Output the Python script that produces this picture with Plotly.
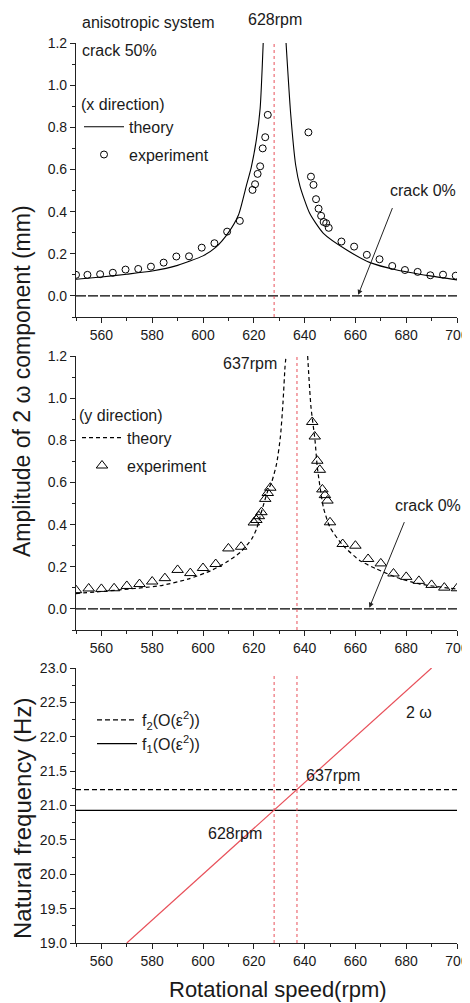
import plotly.graph_objects as go

# ---------------- data ----------------
# x direction (top panel)
x_theory_rpm = [550, 560, 570, 580, 590, 600, 605, 610, 614, 617, 619, 621, 622.5, 623.7,
                None,
                632.7, 634.5, 636.5, 638.2, 642, 647.4, 656.6, 665.8, 676.3, 689.4, 700]
x_theory_amp = [0.079, 0.09, 0.103, 0.118, 0.145, 0.19, 0.23, 0.30, 0.385, 0.52, 0.61, 0.74, 0.89, 1.2,
                None,
                1.2, 0.867, 0.62, 0.52, 0.392, 0.297, 0.218, 0.158, 0.123, 0.095, 0.076]
x_exp_rpm = [550, 554.5, 559.5, 564.5, 569.5, 574.5, 579.5, 584.5, 589.5, 594.5, 599.5, 604.5,
             609.5, 614.5, 619.5, 620.5, 621.5, 622.5, 623.5, 624.5, 625.5,
             641.5, 642.5, 643.5, 644.5, 645.5, 646.5, 647.5, 648.5, 649.5,
             654.5, 659.5, 664.5, 669.5, 674.5, 679.5, 684.5, 689.5, 694.5, 699.5]
x_exp_amp = [0.10, 0.10, 0.103, 0.11, 0.125, 0.128, 0.139, 0.158, 0.187, 0.188, 0.229, 0.25,
             0.305, 0.356, 0.503, 0.53, 0.579, 0.615, 0.70, 0.753, 0.859,
             0.776, 0.566, 0.527, 0.459, 0.414, 0.38, 0.351, 0.345, 0.323,
             0.258, 0.234, 0.195, 0.174, 0.142, 0.123, 0.114, 0.098, 0.101, 0.096]

# y direction (middle panel)
y_theory_rpm = [550, 563, 583, 594, 603, 609, 614.6, 619.2, 621.1, 623, 625.5, 627, 629, 630.5,
                631.5, 632.3, 632.7,
                None,
                641.2, 642.5, 644.1, 645, 647.4, 650, 655.2, 661.8, 668.4, 676.3, 685.4, 700]
y_theory_amp = [0.073, 0.086, 0.11, 0.141, 0.181, 0.22, 0.268, 0.332, 0.38, 0.46, 0.56, 0.60, 0.69, 0.82,
                0.98, 1.15, 1.2,
                None,
                1.2, 0.959, 0.80, 0.673, 0.482, 0.387, 0.30, 0.229, 0.189, 0.149, 0.118, 0.094]
y_exp_rpm = [550, 555, 560, 565, 570, 575, 580, 585, 590, 595, 600, 605, 610, 615,
             620, 621, 622, 623, 624.5, 625.5, 626.5,
             643, 644, 645, 646, 647, 648, 649, 650, 655, 660, 665, 670, 675, 680, 685, 690, 695, 700]
y_exp_amp = [0.089, 0.097, 0.095, 0.098, 0.109, 0.118, 0.13, 0.146, 0.185, 0.17, 0.194, 0.213, 0.287, 0.295,
             0.41, 0.422, 0.44, 0.459, 0.522, 0.55, 0.575,
             0.887, 0.818, 0.703, 0.66, 0.567, 0.54, 0.514, 0.411, 0.308, 0.30, 0.237, 0.216, 0.168,
             0.152, 0.133, 0.114, 0.101, 0.098]

crack0_rpm = [550, 700]
crack0_amp = [0.0, 0.0]

# natural frequency (bottom panel)
res_rpm = [628, 637]
f1_hz = 20.93
f2_hz = 21.23
freq_rpm_span = [550, 700]
two_omega_rpm = [570, 690]
two_omega_hz = [19.0, 23.0]

# ---------------- helpers ----------------
OFF = 8  # page body margin in the browser
WIN_W, WIN_H = 470, 1003
W, H = WIN_W - OFF, WIN_H - OFF
def px(x):
    return (x - OFF) / W
def py(y):
    return 1 - (y - OFF) / H

FONT = "Liberation Sans, Arial, sans-serif"
TXT = "#1a1a1a"
RED = "#e8505a"

fig = go.Figure()

# top panel
fig.add_trace(go.Scatter(x=x_theory_rpm, y=x_theory_amp, mode="lines", name="theory",
                         line=dict(color="black", width=1.1, shape="spline", smoothing=0.6),
                         connectgaps=False, xaxis="x", yaxis="y", legend="legend", legendgroup="a"))
fig.add_trace(go.Scatter(x=x_exp_rpm, y=x_exp_amp, mode="markers", name="experiment",
                         marker=dict(symbol="circle-open", size=7, color="black", line=dict(width=1)),
                         xaxis="x", yaxis="y", legend="legend", legendgroup="b"))
fig.add_trace(go.Scatter(x=crack0_rpm, y=crack0_amp, mode="lines", showlegend=False,
                         line=dict(color="black", width=1.1, dash="10px,2px"), xaxis="x", yaxis="y"))

# middle panel
fig.add_trace(go.Scatter(x=y_theory_rpm, y=y_theory_amp, mode="lines", name="theory",
                         line=dict(color="black", width=1.2, dash="4px,3px", shape="spline", smoothing=0.6),
                         connectgaps=False, xaxis="x2", yaxis="y2", legend="legend2", legendgroup="c"))
fig.add_trace(go.Scatter(x=y_exp_rpm, y=y_exp_amp, mode="markers", name="experiment",
                         marker=dict(symbol="triangle-up-open", size=10, color="black", line=dict(width=1)),
                         xaxis="x2", yaxis="y2", legend="legend2", legendgroup="d"))
fig.add_trace(go.Scatter(x=crack0_rpm, y=crack0_amp, mode="lines", showlegend=False,
                         line=dict(color="black", width=1.1, dash="10px,2px"), xaxis="x2", yaxis="y2"))

# bottom panel
fig.add_trace(go.Scatter(x=freq_rpm_span, y=[f2_hz, f2_hz], mode="lines",
                         name="f<sub>2</sub>(O(ε<sup>2</sup>))",
                         line=dict(color="black", width=1.2, dash="5px,3px"),
                         xaxis="x3", yaxis="y3", legend="legend3", legendgroup="e"))
fig.add_trace(go.Scatter(x=freq_rpm_span, y=[f1_hz, f1_hz], mode="lines",
                         name="f<sub>1</sub>(O(ε<sup>2</sup>))",
                         line=dict(color="black", width=1.2),
                         xaxis="x3", yaxis="y3", legend="legend3", legendgroup="f"))
fig.add_trace(go.Scatter(x=two_omega_rpm, y=two_omega_hz, mode="lines", showlegend=False,
                         line=dict(color=RED, width=1.2), xaxis="x3", yaxis="y3"))

# red dotted resonance lines
shapes = []
shapes.append(dict(type="line", xref="x", yref="y domain", x0=res_rpm[0], x1=res_rpm[0], y0=0, y1=1,
                   line=dict(color=RED, width=1, dash="dot")))
shapes.append(dict(type="line", xref="x2", yref="y2 domain", x0=res_rpm[1], x1=res_rpm[1], y0=0, y1=1,
                   line=dict(color=RED, width=1, dash="dot")))
for r in res_rpm:
    shapes.append(dict(type="line", xref="x3", yref="y3 domain", x0=r, x1=r, y0=0, y1=0.98,
                       line=dict(color=RED, width=1, dash="dot")))

# axes
xdom = [px(76), px(457)]
axis_common = dict(showline=True, linecolor="#222", linewidth=1.2, ticks="outside", ticklen=5,
                   tickwidth=1.1, tickcolor="#222", showgrid=False, zeroline=False, automargin=False,
                   tickfont=dict(family=FONT, size=14, color=TXT))
xaxis_common = dict(axis_common, range=[550, 700], tick0=560, dtick=20,
                    minor=dict(ticks="outside", ticklen=3, dtick=10, tick0=550, tickcolor="#222"))

def ypanel(top, bottom):
    return [py(bottom), py(top)]

layout = dict(
    width=W, height=H, margin=dict(l=0, r=0, t=0, b=0, autoexpand=False),
    paper_bgcolor="white", plot_bgcolor="white",
    font=dict(family=FONT, color=TXT),
    xaxis=dict(xaxis_common, domain=xdom, anchor="y"),
    xaxis2=dict(xaxis_common, domain=xdom, anchor="y2"),
    xaxis3=dict(xaxis_common, domain=xdom, anchor="y3"),
    yaxis=dict(axis_common, domain=ypanel(43, 317), anchor="x", range=[-0.1, 1.2], tick0=0, dtick=0.2,
               tickformat=".1f", minor=dict(ticks="outside", ticklen=3, dtick=0.1, tickcolor="#222")),
    yaxis2=dict(axis_common, domain=ypanel(356, 630), anchor="x2", range=[-0.1, 1.2], tick0=0, dtick=0.2,
                tickformat=".1f", minor=dict(ticks="outside", ticklen=3, dtick=0.1, tickcolor="#222")),
    yaxis3=dict(axis_common, domain=ypanel(668, 943), anchor="x3", range=[19, 23], tick0=19, dtick=0.5,
                tickformat=".1f", minor=dict(ticks="outside", ticklen=3, dtick=0.25, tickcolor="#222")),
    shapes=shapes,
    legend=dict(x=px(79), y=py(89), xanchor="left", yanchor="top", bgcolor="rgba(0,0,0,0)",
                font=dict(family=FONT, size=16, color=TXT), itemwidth=40,
                title=dict(text="(x direction)", font=dict(family=FONT, size=16, color=TXT)),
                traceorder="grouped", tracegroupgap=4),
    legend2=dict(x=px(77), y=py(400), xanchor="left", yanchor="top", bgcolor="rgba(0,0,0,0)",
                 font=dict(family=FONT, size=16, color=TXT), itemwidth=40,
                 title=dict(text="(y direction)", font=dict(family=FONT, size=16, color=TXT)),
                 traceorder="grouped", tracegroupgap=4),
    legend3=dict(x=px(92), y=py(703), xanchor="left", yanchor="top", bgcolor="rgba(0,0,0,0)",
                 font=dict(family=FONT, size=16, color=TXT), itemwidth=40,
                 traceorder="grouped", tracegroupgap=0),
)
fig.update_layout(**layout)

def text(x, y, s, size=16, xanchor="left", angle=0):
    fig.add_annotation(xref="paper", yref="paper", x=px(x), y=py(y), text=s, showarrow=False,
                       xanchor=xanchor, yanchor="middle", textangle=angle,
                       font=dict(family=FONT, size=size, color=TXT))

text(80, 22, "anisotropic system")
text(275, 20, "628rpm", xanchor="center")
text(80, 50, "crack 50%")
text(423, 191, "crack 0%", xanchor="center")
text(279, 363, "637rpm", xanchor="right")
text(428, 505, "crack 0%", xanchor="center")
text(419, 712, "2 ω", xanchor="center")
text(304, 775, "637rpm")
text(235, 833, "628rpm", xanchor="center")
text(22, 381, "Amplitude of 2 ω component (mm)", size=23, xanchor="center", angle=-90)
text(22, 819, "Natural frequency (Hz)", size=24, xanchor="center", angle=-90)
text(278, 989, "Rotational speed(rpm)", size=22, xanchor="center")

# arrows for crack 0%
fig.add_annotation(xref="x", yref="y", axref="x", ayref="y", x=661.1, y=0.005, ax=674.8, ay=0.424,
                   text="", showarrow=True, arrowhead=2, arrowsize=1, arrowwidth=1, arrowcolor="#222")
fig.add_annotation(xref="x2", yref="y2", axref="x2", ayref="y2", x=665.5, y=0.006, ax=679.5, ay=0.419,
                   text="", showarrow=True, arrowhead=2, arrowsize=1, arrowwidth=1, arrowcolor="#222")

fig.write_html("out.html")
